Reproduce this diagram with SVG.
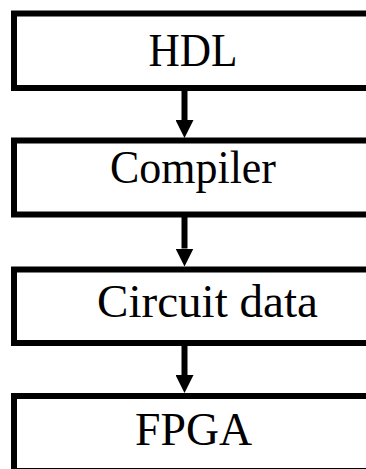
<svg xmlns="http://www.w3.org/2000/svg" width="366" height="469" viewBox="0 0 366 469">
  <style>
    .box { fill: #ffffff; stroke: #000000; stroke-width: 6; }
    .label { font-family: "Liberation Serif", "DejaVu Serif", serif; font-size: 46px; fill: #000000; text-anchor: middle; }
    .flow { stroke: #000000; stroke-width: 6; fill: none; marker-end: url(#head); }
  </style>
  <defs>
    <marker id="head" viewBox="0 0 18 18" refX="0" refY="9" markerWidth="18" markerHeight="18" markerUnits="userSpaceOnUse" orient="auto">
      <path d="M0,0 L18,9 L0,18 Z" fill="#000000"/>
    </marker>
  </defs>
  <rect x="0" y="0" width="366" height="469" fill="#ffffff"/>

  <g id="node-hdl">
    <rect class="box" x="14" y="13.5" width="400" height="74.5"/>
    <text class="label" x="193" y="65.5" textLength="89" lengthAdjust="spacingAndGlyphs">HDL</text>
  </g>
  <g id="node-compiler">
    <rect class="box" x="14" y="140.5" width="400" height="74"/>
    <text class="label" x="193" y="183" textLength="166" lengthAdjust="spacingAndGlyphs">Compiler</text>
  </g>
  <g id="node-circuit-data">
    <rect class="box" x="14" y="269.5" width="400" height="73.5"/>
    <text class="label" x="207.5" y="317" textLength="221" lengthAdjust="spacingAndGlyphs">Circuit data</text>
  </g>
  <g id="node-fpga">
    <rect class="box" x="14" y="396" width="400" height="75"/>
    <text class="label" x="193.5" y="445" textLength="117" lengthAdjust="spacingAndGlyphs">FPGA</text>
  </g>

  <g id="connectors">
    <line class="flow" x1="184.5" y1="88" x2="184.5" y2="120"/>
    <line class="flow" x1="184.5" y1="214.5" x2="184.5" y2="248.5"/>
    <line class="flow" x1="184.5" y1="343" x2="184.5" y2="375"/>
  </g>
</svg>
